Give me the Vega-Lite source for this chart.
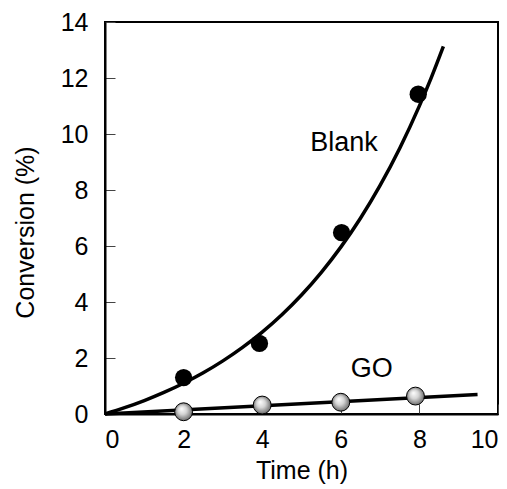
{
  "$schema": "https://vega.github.io/schema/vega-lite/v6.json",
  "width": 393,
  "height": 392,
  "autosize": "none",
  "padding": {"left": 105, "top": 22, "right": 9, "bottom": 75},
  "background": "white",
  "config": {
    "font": "Liberation Sans",
    "view": {"stroke": "black", "strokeWidth": 2}
  },
  "datasets": {
    "blank_pts": [
      {"time": 2.0, "conv": 1.3},
      {"time": 3.93, "conv": 2.52},
      {"time": 6.02, "conv": 6.48},
      {"time": 7.97, "conv": 11.42}
    ],
    "go_pts": [
      {"time": 2.0, "conv": 0.08},
      {"time": 4.0, "conv": 0.32},
      {"time": 6.0, "conv": 0.42},
      {"time": 7.9, "conv": 0.64}
    ],
    "blank_fit": [
      {"time": 0, "conv": 0},
      {"time": 0.5, "conv": 0.225},
      {"time": 1, "conv": 0.48},
      {"time": 1.5, "conv": 0.77},
      {"time": 2, "conv": 1.099},
      {"time": 2.5, "conv": 1.472},
      {"time": 3, "conv": 1.897},
      {"time": 3.5, "conv": 2.378},
      {"time": 4, "conv": 2.925},
      {"time": 4.5, "conv": 3.546},
      {"time": 5, "conv": 4.251},
      {"time": 5.5, "conv": 5.052},
      {"time": 6, "conv": 5.96},
      {"time": 6.5, "conv": 6.992},
      {"time": 7, "conv": 8.164},
      {"time": 7.5, "conv": 9.494},
      {"time": 8, "conv": 11.005},
      {"time": 8.3, "conv": 12.007},
      {"time": 8.61, "conv": 13.13}
    ],
    "go_fit": [
      {"time": 0, "conv": 0},
      {"time": 9.48, "conv": 0.7}
    ],
    "labels": [
      {"time": 6.08, "conv": 9.68, "label": "Blank"},
      {"time": 6.79, "conv": 1.59, "label": "GO"}
    ]
  },
  "encoding": {
    "x": {
      "field": "time",
      "type": "quantitative",
      "scale": {"domain": [0, 10], "nice": false},
      "axis": {
        "title": "Time (h)",
        "values": [0, 2, 4, 6, 8, 10],
        "grid": false,
        "domainColor": "black",
        "domainWidth": 2,
        "tickColor": "#444444",
        "tickWidth": 1,
        "tickSize": -10,
        "labelPadding": 23,
        "labelFont": "Liberation Sans",
        "labelFontSize": 25,
        "labelColor": "black",
        "titleFont": "Liberation Sans",
        "titleFontSize": 25,
        "titleFontWeight": "normal",
        "titleColor": "black",
        "titlePadding": 6
      }
    },
    "y": {
      "field": "conv",
      "type": "quantitative",
      "scale": {"domain": [0, 14], "nice": false},
      "axis": {
        "title": "Conversion (%)",
        "values": [0, 2, 4, 6, 8, 10, 12, 14],
        "grid": false,
        "domainColor": "black",
        "domainWidth": 2,
        "tickColor": "#444444",
        "tickWidth": 1,
        "tickSize": -10,
        "labelPadding": 27,
        "labelFont": "Liberation Sans",
        "labelFontSize": 25,
        "labelColor": "black",
        "titleFont": "Liberation Sans",
        "titleFontSize": 25,
        "titleFontWeight": "normal",
        "titleColor": "black",
        "titlePadding": 22,
        "titleY": 210
      }
    }
  },
  "layer": [
    {
      "data": {"name": "blank_fit"},
      "mark": {"type": "line", "color": "black", "strokeWidth": 3.5, "interpolate": "monotone"}
    },
    {
      "data": {"name": "go_fit"},
      "mark": {"type": "line", "color": "black", "strokeWidth": 3.5}
    },
    {
      "data": {"name": "blank_pts"},
      "mark": {"type": "point", "filled": true, "color": "black", "size": 300, "opacity": 1}
    },
    {
      "data": {"name": "go_pts"},
      "mark": {
        "type": "point",
        "filled": true,
        "size": 320,
        "opacity": 1,
        "stroke": "black",
        "strokeWidth": 1,
        "fill": {
          "gradient": "radial",
          "x1": 0.38, "y1": 0.32, "r1": 0,
          "x2": 0.5, "y2": 0.5, "r2": 0.55,
          "stops": [
            {"offset": 0, "color": "#ffffff"},
            {"offset": 0.45, "color": "#d4d4d4"},
            {"offset": 1, "color": "#5e5e5e"}
          ]
        }
      }
    },
    {
      "data": {"name": "labels"},
      "mark": {"type": "text", "font": "Liberation Sans", "fontSize": 27, "color": "black"},
      "encoding": {"text": {"field": "label"}}
    }
  ]
}
